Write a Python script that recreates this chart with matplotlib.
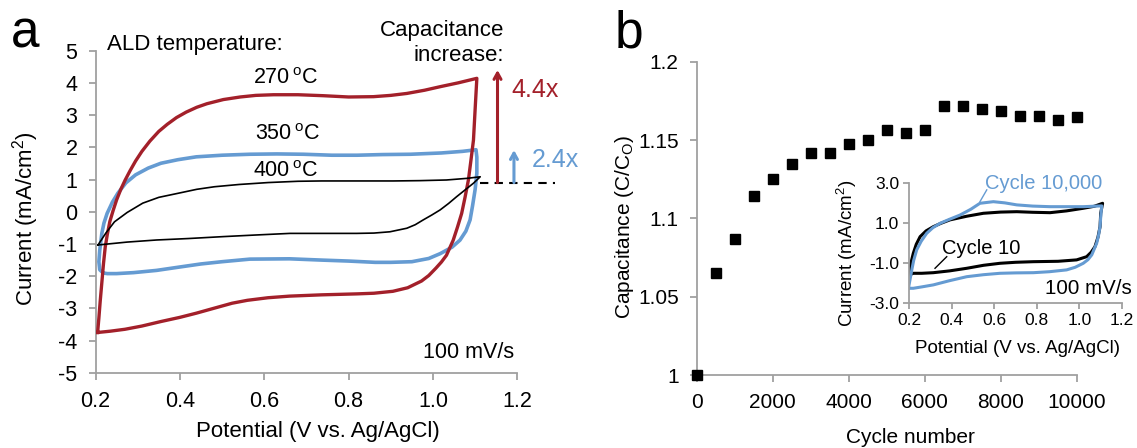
import numpy as np
import matplotlib
matplotlib.use('Agg')
import matplotlib.pyplot as plt

plt.rcParams['font.family'] = ['Liberation Sans', 'DejaVu Sans']
plt.rcParams['mathtext.fontset'] = 'custom'
plt.rcParams['mathtext.rm'] = 'Liberation Sans'
plt.rcParams['mathtext.it'] = 'Liberation Sans:italic'
plt.rcParams['axes.unicode_minus'] = False

# --- panel a: CV loops (potential V, current mA/cm2) ---
red_x = [0.205, 0.208, 0.211, 0.215, 0.219, 0.223, 0.228, 0.234, 0.242, 0.250, 0.260, 0.270,
         0.282, 0.295, 0.310, 0.329, 0.350, 0.370, 0.392, 0.415, 0.440, 0.464, 0.503, 0.543,
         0.580, 0.622, 0.680, 0.740, 0.800, 0.859, 0.900, 0.938, 0.980, 1.017, 1.060, 1.104,
         1.100, 1.096, 1.090, 1.084, 1.076, 1.068, 1.058, 1.048, 1.032, 1.020, 1.007, 0.990,
         0.973, 0.940, 0.905, 0.860, 0.820, 0.736, 0.660, 0.609, 0.560, 0.524, 0.480, 0.439,
         0.400, 0.355, 0.310, 0.270, 0.235, 0.205]
red_y = [-3.75, -3.3, -2.8, -2.2, -1.6, -1.1, -0.7, -0.3, 0.05, 0.37, 0.70, 0.98,
         1.28, 1.58, 1.88, 2.20, 2.50, 2.72, 2.93, 3.10, 3.25, 3.36, 3.49, 3.57,
         3.62, 3.64, 3.64, 3.61, 3.57, 3.58, 3.62, 3.68, 3.78, 3.89, 4.01, 4.15,
         3.2, 2.23, 1.6, 0.99, 0.45, -0.05, -0.48, -0.88, -1.35, -1.56, -1.75, -1.98,
         -2.15, -2.36, -2.47, -2.53, -2.55, -2.58, -2.62, -2.67, -2.75, -2.84, -3.0, -3.15,
         -3.28, -3.41, -3.55, -3.65, -3.71, -3.75]

blue_x = [0.218, 0.210, 0.208, 0.210, 0.215, 0.220, 0.2275, 0.240, 0.253, 0.272, 0.295, 0.325,
          0.355, 0.395, 0.439, 0.50, 0.566, 0.63, 0.693, 0.76, 0.820, 0.88, 0.947, 1.02,
          1.070, 1.102,
          1.104, 1.104, 1.100, 1.094, 1.088, 1.078, 1.064, 1.045, 1.017, 0.990, 0.950, 0.900,
          0.863, 0.80, 0.736, 0.66, 0.566, 0.50, 0.45, 0.397, 0.345, 0.29, 0.25, 0.228, 0.218]
blue_y = [-1.90, -1.80, -1.55, -1.2, -0.67, -0.35, -0.05, 0.30, 0.58, 0.90, 1.15, 1.36,
          1.51, 1.62, 1.71, 1.76, 1.79, 1.80, 1.79, 1.76, 1.76, 1.78, 1.79, 1.83,
          1.88, 1.93,
          1.70, 1.2, 0.70, 0.2, -0.25, -0.60, -0.88, -1.10, -1.30, -1.45, -1.55, -1.57,
          -1.57, -1.53, -1.50, -1.46, -1.47, -1.55, -1.62, -1.72, -1.82, -1.89, -1.92, -1.92, -1.90]

black_x = [0.206, 0.225, 0.245, 0.275, 0.312, 0.350, 0.397, 0.440, 0.482, 0.540, 0.609, 0.680,
           0.736, 0.820, 0.906, 0.970, 1.032, 1.080, 1.112,
           1.096, 1.076, 1.056, 1.037, 1.017, 0.997, 0.977, 0.958, 0.938, 0.898, 0.860, 0.819,
           0.740, 0.661, 0.580, 0.503, 0.420, 0.345, 0.275, 0.206]
black_y = [-1.03, -0.65, -0.31, -0.02, 0.27, 0.45, 0.58, 0.70, 0.78, 0.85, 0.91, 0.95,
           0.96, 0.96, 0.96, 0.97, 0.99, 1.04, 1.09,
           0.89, 0.68, 0.47, 0.26, 0.06, -0.10, -0.25, -0.40, -0.51, -0.62, -0.66, -0.67,
           -0.67, -0.67, -0.72, -0.77, -0.83, -0.875, -0.94, -1.03]

temp_labels = ['270$\\,^{\\mathrm{o}}$C', '350$\\,^{\\mathrm{o}}$C', '400$\\,^{\\mathrm{o}}$C']
temp_pos = [(0.651, 4.15), (0.655, 2.39), (0.651, 1.25)]
increase_labels = ['4.4x', '2.4x']
base_current = 0.91
peak_current = [4.41, 1.92]

# --- panel b: capacitance retention ---
cycles = [0, 500, 1000, 1500, 2000, 2500, 3000, 3500, 4000, 4500, 5000,
          5500, 6000, 6500, 7000, 7500, 8000, 8500, 9000, 9500, 10000]
cap_ratio = [1.0, 1.0653, 1.0870, 1.1141, 1.1253, 1.1345, 1.1417, 1.1417, 1.1472, 1.1502, 1.1565,
             1.1546, 1.1567, 1.1718, 1.1718, 1.1701, 1.1688, 1.1656, 1.1656, 1.1625, 1.1644]
cap_ticks = [1.0, 1.05, 1.1, 1.15, 1.2]
cap_ticklabels = ['1', '1.05', '1.1', '1.15', '1.2']

# inset CVs
c10k_x = [0.197, 0.205, 0.213, 0.222, 0.236, 0.257, 0.283, 0.312, 0.346, 0.390, 0.439, 0.490,
          0.533, 0.596, 0.650, 0.706, 0.780, 0.862, 0.940, 1.018, 1.105,
          1.100, 1.097, 1.090, 1.081, 1.058, 1.040, 1.018, 0.980, 0.940, 0.860, 0.784, 0.700,
          0.627, 0.550, 0.471, 0.390, 0.314, 0.260, 0.220, 0.197]
c10k_y = [-2.25, -1.8, -1.33, -0.85, -0.33, 0.1, 0.50, 0.78, 1.0, 1.2, 1.41, 1.7,
          2.0, 2.08, 2.02, 1.92, 1.86, 1.83, 1.83, 1.83, 1.87,
          1.3, 0.83, 0.4, 0.0, -0.58, -0.82, -1.0, -1.2, -1.33, -1.42, -1.47, -1.48,
          -1.50, -1.57, -1.67, -1.87, -2.08, -2.18, -2.25, -2.25]
c10_x = [0.201, 0.205, 0.212, 0.220, 0.234, 0.252, 0.280, 0.314, 0.350, 0.392, 0.470, 0.549,
         0.630, 0.706, 0.780, 0.862, 0.940, 1.018, 1.070, 1.109,
         1.100, 1.097, 1.087, 1.073, 1.055, 1.034, 0.987, 0.900, 0.784, 0.700, 0.627, 0.550,
         0.471, 0.390, 0.314, 0.260, 0.220, 0.201]
c10_y = [-1.58, -1.2, -0.85, -0.50, -0.05, 0.33, 0.62, 0.83, 1.0, 1.17, 1.35, 1.50,
         1.56, 1.58, 1.55, 1.53, 1.62, 1.75, 1.85, 2.0,
         1.5, 0.83, 0.3, -0.17, -0.45, -0.67, -0.83, -0.90, -0.92, -0.95, -1.0, -1.10,
         -1.25, -1.38, -1.47, -1.50, -1.50, -1.58]

RED = '#A3202A'
BLUE = '#659BD2'
GRAY = '#A0A0A0'


def style_axes(ax, lw=1.3, length=5, pad=8, size=15):
    for s in ['top', 'right']:
        ax.spines[s].set_visible(False)
    for s in ['left', 'bottom']:
        ax.spines[s].set_color(GRAY)
        ax.spines[s].set_linewidth(lw)
    ax.tick_params(direction='out', length=length, width=lw, color=GRAY,
                   labelsize=size, pad=pad)


fig = plt.figure(figsize=(11.37, 4.48), dpi=100)

# ---------------- panel a ----------------
ax = fig.add_axes([0.0840, 0.1681, 0.3710, 0.7181])
style_axes(ax, size=15.5)
ax.plot(blue_x, blue_y, color=BLUE, lw=2.6, zorder=2)
ax.plot(red_x, red_y, color=RED, lw=2.4, zorder=3)
ax.plot(black_x, black_y, color='black', lw=1.2, zorder=4)
ax.set_xlim(0.2, 1.2)
ax.set_ylim(-5, 5)
ax.set_xticks(np.arange(0.2, 1.21, 0.2))
ax.set_xticklabels(['%.1f' % v for v in np.arange(0.2, 1.21, 0.2)])
ax.set_yticks(range(-5, 6))

ax.set_xlabel('Potential (V vs. Ag/AgCl)', fontsize=16, va='center')
ax.xaxis.set_label_coords(0.527, -0.183)
ax.set_ylabel('Current (mA/cm$^2$)', fontsize=16, va='center')
ax.yaxis.set_label_coords(-0.165, 0.478)

ax.text(0.227, 5.19, 'ALD temperature:', fontsize=16, ha='left', va='center')
ax.text(1.168, 5.25, 'Capacitance\nincrease:', fontsize=16, ha='right', va='center',
        multialignment='right', linespacing=1.2)
for lab, (tx, ty) in zip(temp_labels, temp_pos):
    ax.text(tx, ty, lab, fontsize=15.5, ha='center', va='center')
ax.text(1.192, -4.36, '100 mV/s', fontsize=15.5, ha='right', va='center')

ax.plot([1.112, 1.29], [base_current, base_current], color='black', lw=1.5,
        dashes=(4, 3), clip_on=False)
for xa, top, col, lab, (lx, ly) in zip([1.153, 1.192], peak_current, [RED, BLUE],
                                        increase_labels, [(1.187, 3.8), (1.234, 1.62)]):
    ax.annotate('', xy=(xa, top), xytext=(xa, base_current), annotation_clip=False,
                arrowprops=dict(arrowstyle='->,head_length=0.45,head_width=0.25',
                                color=col, lw=2.2, shrinkA=0, shrinkB=0))
    ax.text(lx, ly, lab, color=col, fontsize=18, ha='left', va='center')

fig.text(0.0097, 0.893, 'a', fontsize=37, va='baseline')
fig.text(0.5410, 0.893, 'b', fontsize=37, va='baseline')

# ---------------- panel b ----------------
bx = fig.add_axes([0.6128, 0.1629, 0.3342, 0.6993])
style_axes(bx)
bx.plot(cycles, cap_ratio, 's', color='black', ms=7.5, clip_on=False, zorder=5)
bx.set_xlim(0, 10000)
bx.set_ylim(1.0, 1.2)
bx.set_xticks(range(0, 10001, 2000))
bx.set_yticks(cap_ticks)
bx.set_yticklabels(cap_ticklabels)
bx.set_xlabel('Cycle number', fontsize=15, va='center')
bx.xaxis.set_label_coords(0.563, -0.201)
bx.set_ylabel('Capacitance (C/C$_{\\mathrm{O}}$)', fontsize=15, va='center')
bx.yaxis.set_label_coords(-0.190, 0.472)

# inset
ix = fig.add_axes([0.7995, 0.3230, 0.1873, 0.2679])
ix.patch.set_alpha(0)
style_axes(ix, lw=1.3, length=4, pad=3, size=12.5)
ix.plot(c10_x, c10_y, color='black', lw=2.2)
ix.plot(c10k_x, c10k_y, color=BLUE, lw=2.2)
ix.set_xlim(0.2, 1.2)
ix.set_ylim(-3, 3)
ix.set_xticks(np.arange(0.2, 1.21, 0.2))
ix.set_xticklabels(['%.1f' % v for v in np.arange(0.2, 1.21, 0.2)])
ix.set_yticks([-3, -1, 1, 3])
ix.set_yticklabels(['-3.0', '-1.0', '1.0', '3.0'])
ix.set_xlabel('Potential (V vs. Ag/AgCl)', fontsize=13.5, va='center')
ix.xaxis.set_label_coords(0.509, -0.375)
ix.set_ylabel('Current (mA/cm$^2$)', fontsize=13.5, va='center')
ix.yaxis.set_label_coords(-0.292, 0.417)

ix.text(0.557, 3.0, 'Cycle 10,000', color=BLUE, fontsize=14.5, ha='left', va='center',
        clip_on=False)
ix.plot([0.533, 0.565], [2.08, 2.67], color=BLUE, lw=1)
ix.text(0.353, -0.25, 'Cycle 10', fontsize=14.5, ha='left', va='center')
ix.plot([0.377, 0.322], [-0.67, -1.25], color='black', lw=1)
ix.text(1.245, -2.25, '100 mV/s', fontsize=14.8, ha='right', va='center', clip_on=False)

fig.savefig('out.png', dpi=100)
